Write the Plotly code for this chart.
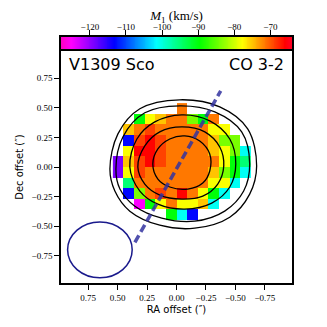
import numpy as np
import plotly.graph_objects as go

# ---- data -------------------------------------------------------------
# first-moment map (km/s), rows top->bottom, columns left->right (RA decreasing)
ra_centers = [0.495, 0.405, 0.315, 0.225, 0.135, 0.045, -0.045, -0.135,
              -0.225, -0.315, -0.405, -0.495, -0.585]
dec_centers = [0.495, 0.405, 0.315, 0.225, 0.135, 0.045, -0.045, -0.135,
               -0.225, -0.315, -0.405]
N = None
m1_rows = [
    [N, N, N, N, N, N, -71.5, N, N, N, N, N, N],
    [N, N, -90, -78, -75, -71.5, -71.5, -84, -90, -71.5, N, N, N],
    [N, -75, -71.5, -69, -71.5, -71.5, -71.5, -71.5, -71.5, -78, -78, N, N],
    [N, -113, -69, -66, -69, -71.5, -71.5, -71.5, -71.5, -75, -84, -84, N],
    [N, -78, -66, -66, -69, -71.5, -71.5, -71.5, -71.5, -75, -78, -84, -101],
    [-119, -75, -69, -66, -69, -71.5, -71.5, -71.5, -71.5, -71.5, -78, -90, -95],
    [-119, -78, -69, -71.5, -71.5, -71.5, -71.5, -71.5, -71.5, -75, -84, -90, -101],
    [N, -95, -71.5, -71.5, -71.5, -71.5, -71.5, -71.5, -71.5, -78, -78, -101, N],
    [N, -113, -84, -71.5, -69, -71.5, -66, -71.5, -78, -90, -101, N, N],
    [N, N, -125, -90, -78, -71.5, -78, -78, -75, -101, N, N, N],
    [N, N, N, N, N, -90, -101, -113, N, N, N, N, N],
]

# integrated-intensity contours (RA, Dec in arcsec)
contour_ra = [
    [0.565, 0.497, 0.311, -0.028, -0.367, -0.604, -0.680, -0.621, -0.452, -0.155, 0.142, 0.396, 0.523],
    [0.514, 0.455, 0.269, -0.028, -0.325, -0.553, -0.621, -0.570, -0.409, -0.155, 0.125, 0.353, 0.480],
    [0.396, 0.336, 0.184, -0.045, -0.282, -0.452, -0.503, -0.452, -0.299, -0.070, 0.158, 0.311],
    [0.328, 0.269, 0.142, -0.045, -0.240, -0.367, -0.401, -0.350, -0.223, -0.045, 0.142, 0.269],
    [0.201, 0.158, 0.057, -0.070, -0.197, -0.282, -0.282, -0.223, -0.096, 0.057, 0.158],
]
contour_dec = [
    [-0.017, 0.280, 0.492, 0.568, 0.508, 0.322, 0.008, -0.229, -0.424, -0.517, -0.492, -0.373, -0.203],
    [-0.017, 0.254, 0.458, 0.517, 0.466, 0.297, 0.025, -0.203, -0.373, -0.458, -0.432, -0.331, -0.186],
    [0.0, 0.237, 0.381, 0.441, 0.390, 0.237, 0.025, -0.169, -0.305, -0.356, -0.314, -0.203],
    [0.0, 0.178, 0.297, 0.339, 0.297, 0.169, 0.008, -0.144, -0.246, -0.271, -0.237, -0.144],
    [0.025, 0.153, 0.237, 0.263, 0.220, 0.110, -0.034, -0.136, -0.186, -0.169, -0.102],
]

# outflow / jet axis (dashed line end points)
axis_ra = [0.353, -0.375]
axis_dec = [-0.636, 0.644]

# synthesized beam
beam_ra, beam_dec = 0.65, -0.70
beam_half_ra, beam_half_dec = 0.274, 0.236

ra_ticks = [0.75, 0.5, 0.25, 0.0, -0.25, -0.5, -0.75]
dec_ticks = [0.75, 0.5, 0.25, 0.0, -0.25, -0.5, -0.75]
cbar_ticks = [-120, -110, -100, -90, -80, -70]
vmin, vmax = -128, -64

# matplotlib gist_rainbow_r
gist_rainbow_r = [
    [0.0, "rgb(255,0,191)"], [0.046, "rgb(255,0,255)"], [0.230, "rgb(0,0,255)"],
    [0.414, "rgb(0,255,255)"], [0.600, "rgb(0,255,0)"], [0.785, "rgb(255,255,0)"],
    [0.970, "rgb(255,0,0)"], [1.0, "rgb(255,0,41)"],
]

fig = go.Figure()

# heatmap wants ascending x, so flip the columns
x_asc = ra_centers[::-1]
z_asc = [row[::-1] for row in m1_rows]
fig.add_trace(go.Heatmap(
    x=x_asc, y=dec_centers, z=z_asc, zmin=vmin, zmax=vmax,
    colorscale=gist_rainbow_r, showscale=False, hoverongaps=False,
))

for cx, cy in zip(contour_ra, contour_dec):
    fig.add_trace(go.Scatter(
        x=cx + cx[:1], y=cy + cy[:1], mode="lines",
        line=dict(color="black", width=1.3, shape="spline", smoothing=1.0),
        showlegend=False, hoverinfo="skip",
    ))

fig.add_trace(go.Scatter(
    x=axis_ra, y=axis_dec, mode="lines",
    line=dict(color="rgba(50,50,160,0.85)", width=3.5, dash="8px,4px"),
    showlegend=False, hoverinfo="skip",
))

fig.add_shape(
    type="circle", xref="x", yref="y",
    x0=beam_ra - beam_half_ra, x1=beam_ra + beam_half_ra,
    y0=beam_dec - beam_half_dec, y1=beam_dec + beam_half_dec,
    line=dict(color="#1a1a8c", width=1.5),
)

# colour bar as a strip on its own axis, ticks on top
cb_x = np.linspace(vmin, vmax, 257)
fig.add_trace(go.Heatmap(
    x=cb_x, y=[0], z=[cb_x], xaxis="x2", yaxis="y2", zmin=vmin, zmax=vmax,
    colorscale=gist_rainbow_r, showscale=False, hoverinfo="skip",
))

tick_font = dict(family="Liberation Serif", size=9, color="black")
lab_font = dict(family="DejaVu Sans", size=10, color="black")

# the page body adds an 8px offset, so margins are measured from there
fig.update_layout(
    width=327, height=327,
    margin=dict(l=53, r=43, t=29, b=52, autoexpand=False),
    paper_bgcolor="white", plot_bgcolor="white",
    showlegend=False,
    xaxis=dict(
        domain=[0, 1], range=[0.98, -0.98], tickvals=ra_ticks,
        ticktext=[f"{v:.2f}".replace("-", "\u2212") for v in ra_ticks],
        ticks="outside", ticklen=5, tickwidth=1, tickcolor="black",
        showline=True, linecolor="black", linewidth=1.5, mirror=True,
        showgrid=False, zeroline=False, tickfont=tick_font, automargin=False,
        title=dict(text="RA offset (\u2033)", font=lab_font, standoff=4),
    ),
    yaxis=dict(
        domain=[0, 0.943], range=[-0.98, 0.98], tickvals=dec_ticks,
        ticktext=[f"{v:.2f}".replace("-", "\u2212") for v in dec_ticks],
        ticks="outside", ticklen=5, tickwidth=1, tickcolor="black",
        showline=True, linecolor="black", linewidth=1.5, mirror=True,
        showgrid=False, zeroline=False, tickfont=tick_font, automargin=False,
        title=dict(text="Dec offset (\u2033)", font=lab_font, standoff=6),
    ),
    xaxis2=dict(
        domain=[0, 1], range=[vmin, vmax], anchor="y2", side="top",
        tickvals=cbar_ticks, ticktext=[f"\u2212{abs(v)}" for v in cbar_ticks],
        ticks="outside", ticklen=5, tickwidth=1, tickcolor="black",
        ticklabelstandoff=-3,
        showline=True, linecolor="black", linewidth=1.5, mirror=True,
        showgrid=False, zeroline=False, tickfont=tick_font, automargin=False,
        title=dict(text="<i>M</i><sub>1</sub> (km/s)",
                   font=dict(family="Liberation Serif", size=13, color="black"), standoff=4),
    ),
    yaxis2=dict(
        domain=[0.951, 1.0], anchor="x2", range=[-0.5, 0.5], automargin=False,
        showticklabels=False, ticks="", showline=True, linecolor="black",
        linewidth=1.5, mirror=True, showgrid=False, zeroline=False,
    ),
)

fig.add_annotation(xref="paper", yref="paper", x=0.025, y=0.935, xanchor="left", yanchor="top",
                   text="V1309 Sco", showarrow=False, font=dict(family="DejaVu Sans", size=16, color="black"))
fig.add_annotation(xref="paper", yref="paper", x=0.975, y=0.935, xanchor="right", yanchor="top",
                   text="CO 3-2", showarrow=False, font=dict(family="DejaVu Sans", size=16, color="black"))

fig.write_html("out.html")
